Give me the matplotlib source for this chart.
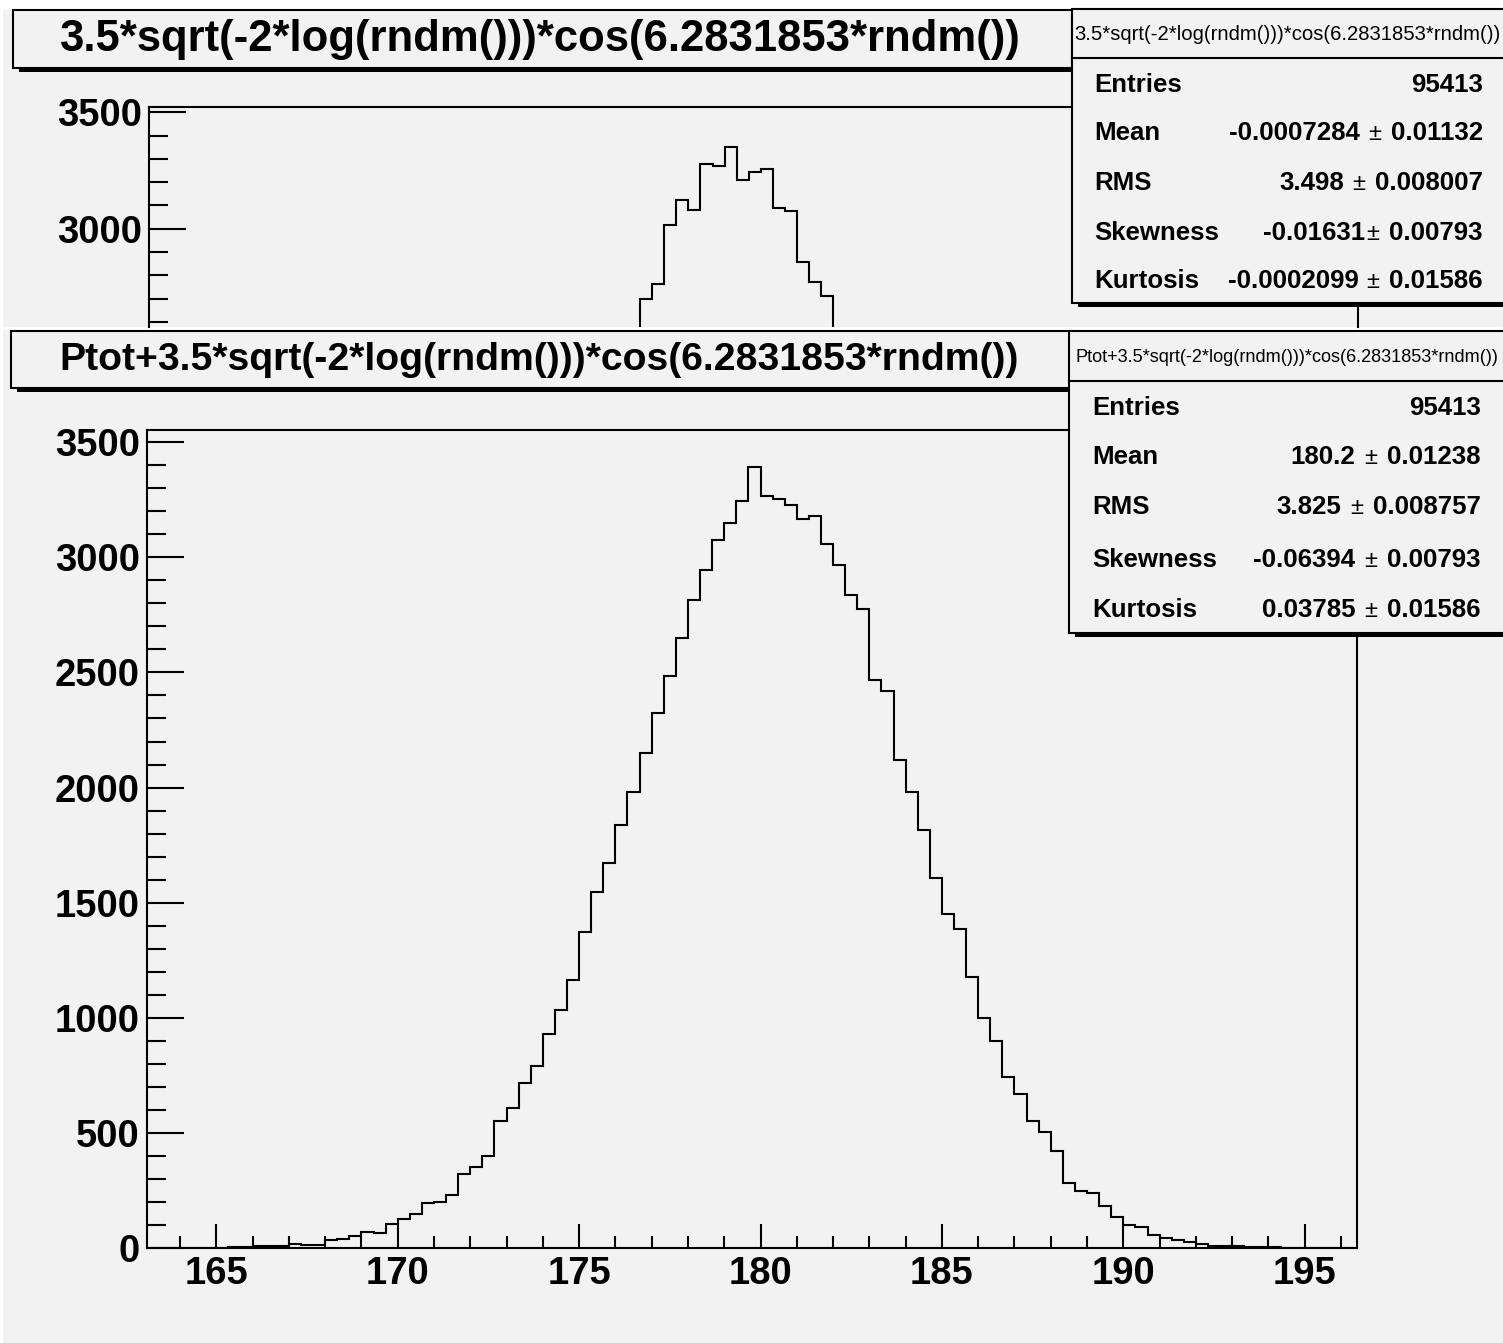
import matplotlib
matplotlib.use("Agg")
import matplotlib.pyplot as plt
import numpy as np
from matplotlib.patches import Rectangle
from matplotlib.lines import Line2D

# ---------------------------------------------------------------- data
# Ptot + 3.5*gauss : 100 bins of width 1/3 starting at 163
ptot_first_edge = 163.0
ptot_bin_width = 1.0 / 3.0
ptot_counts = [
    0, 0, 1, 1, 2, 2, 3, 4, 5, 12,
    10, 12, 19, 15, 16, 35, 39, 54, 71, 66,
    106, 128, 148, 198, 201, 230, 323, 353, 402, 552,
    608, 719, 792, 929, 1035, 1163, 1372, 1548, 1671, 1838,
    1982, 2149, 2322, 2484, 2649, 2814, 2944, 3075, 3150, 3244,
    3390, 3267, 3251, 3228, 3167, 3179, 3059, 2968, 2834, 2777,
    2468, 2418, 2119, 1979, 1817, 1607, 1450, 1386, 1180, 1000,
    902, 745, 670, 555, 504, 424, 285, 248, 242, 184,
    135, 102, 95, 58, 44, 37, 26, 18, 12, 12,
    10, 8, 6, 5, 3, 2, 1, 1, 0, 0,
]
ptot_xticks = [165, 170, 175, 180, 185, 190, 195]
ptot_yticks = [0, 500, 1000, 1500, 2000, 2500, 3000, 3500]

# 3.5*gauss : the bins around the maximum
gauss_first_edge = -3.13
gauss_bin_width = 1.0 / 3.0
gauss_counts = [2698, 2761, 3015, 3122, 3080, 3278, 3271, 3352,
                3209, 3245, 3256, 3090, 3077, 2856, 2771, 2712]
gauss_yticks = [3000, 3500]

title_gauss = "3.5*sqrt(-2*log(rndm()))*cos(6.2831853*rndm())"
title_ptot = "Ptot+3.5*sqrt(-2*log(rndm()))*cos(6.2831853*rndm())"

stat_names = ["Entries", "Mean", "RMS", "Skewness", "Kurtosis"]
gauss_stats = [("95413", None), ("-0.0007284", "0.01132"), ("3.498", "0.008007"),
               ("-0.01631", "0.00793"), ("-0.0002099", "0.01586")]
ptot_stats = [("95413", None), ("180.2", "0.01238"), ("3.825", "0.008757"),
              ("-0.06394", "0.00793"), ("0.03785", "0.01586")]

# ---------------------------------------------------------------- style
plt.rcParams["font.family"] = ["Liberation Sans", "DejaVu Sans"]
plt.rcParams["font.weight"] = "bold"

W, H = 1503, 1343
PAD = "#f2f2f2"
LW = 1.5

fig = plt.figure(figsize=(W / 100, H / 100), dpi=100, facecolor="white")
renderer = fig.canvas.get_renderer()


def frect(x0, y0, x1, y1, **kw):
    return Rectangle((x0 / W, 1 - y1 / H), (x1 - x0) / W, (y1 - y0) / H,
                     transform=fig.transFigure, **kw)


def hline(x0, x1, y, z, lw=LW):
    fig.lines.append(Line2D([x0 / W, x1 / W], [1 - y / H, 1 - y / H],
                            transform=fig.transFigure, color="black",
                            lw=lw, zorder=z))


def ftext(x, y, s, z, **kw):
    return fig.text(x / W, 1 - y / H, s, zorder=z, **kw)


def shadow_box(x0, y0, x1, y1, z):
    fig.patches.append(frect(x0 + 6, y0 + 5, x1 + 4, y1 + 4,
                             facecolor="black", edgecolor="none", zorder=z))
    fig.patches.append(frect(x0, y0, x1, y1, facecolor=PAD,
                             edgecolor="black", lw=LW, zorder=z + 0.01))


def width_px(t):
    return t.get_window_extent(renderer=renderer).width


def stats_box(x0, y0, y_head, y1, header, header_size, rows, label_x, value_x, z):
    shadow_box(x0, y0, W + 20, y1, z)
    hline(x0, W + 5, y_head, z + 0.02)
    ftext(1287, (y0 + y_head) / 2 + 1, header, z + 0.03,
          ha="center", va="center", fontsize=header_size, fontweight="normal")
    for (name, (a, b), y, gap) in rows:
        ftext(label_x, y, name, z + 0.03, ha="left", va="center", fontsize=18.6)
        if b is None:
            ftext(value_x, y, a, z + 0.03, ha="right", va="center", fontsize=18.6)
            continue
        tb = ftext(value_x, y, b, z + 0.03, ha="right", va="center", fontsize=18.6)
        xb = value_x - width_px(tb) - 10
        tp = ftext(xb, y + 1, "\u00b1", z + 0.03, ha="right", va="center",
                   fontsize=17, fontweight="normal")
        xa = xb - width_px(tp) - gap
        ftext(xa, y, a, z + 0.03, ha="right", va="center", fontsize=18.6)


def style_frame(ax):
    ax.patch.set_visible(False)
    for sp in ax.spines.values():
        sp.set_linewidth(LW)
    ax.tick_params(which="both", direction="in", width=LW, top=False,
                   right=False, labelsize=27.5)


# ---------------------------------------------------------------- upper pad
fig.patches.append(frect(3, 10, W, 327, facecolor=PAD, edgecolor="none", zorder=0.1))

ax_g = fig.add_axes([149 / W, 1 - 327 / H, (1358 - 149) / W, (327 - 107.3) / H])
ax_g.set_zorder(0.2)
style_frame(ax_g)
g_edges = gauss_first_edge + gauss_bin_width * np.arange(len(gauss_counts) + 1)
ax_g.stairs(gauss_counts, g_edges, baseline=0, color="black", lw=LW)
ax_g.set_xlim(-16.67, 16.67)
ax_g.set_ylim(2577.7, 3521.5)
ax_g.spines["bottom"].set_visible(False)
ax_g.set_xticks([])
ax_g.set_yticks(gauss_yticks)
ax_g.set_yticks(np.arange(2600, 3501, 100), minor=True)
ax_g.tick_params(axis="y", which="major", length=26.5, pad=5)
ax_g.tick_params(axis="y", which="minor", length=13.5)

shadow_box(13, 10, 1072, 68, 0.3)
ftext(540, 39, title_gauss, 0.35, ha="center", va="center", fontsize=31.4)

stats_box(1072, 9, 58, 303, title_gauss, 14.6,
          [(n, v, y, g) for n, v, y, g in zip(stat_names, gauss_stats,
                                               [85, 133, 183, 233, 281],
                                               [0, 8, 8, 1, 8])],
          1094, 1483, 0.4)

# ---------------------------------------------------------------- lower pad
fig.patches.append(frect(3, 330, W, H, facecolor=PAD, edgecolor="none", zorder=1.0))

ax_p = fig.add_axes([147 / W, 1 - 1248.4 / H, (1357 - 147) / W, (1248.4 - 430) / H])
ax_p.set_zorder(1.1)
style_frame(ax_p)
p_edges = ptot_first_edge + ptot_bin_width * np.arange(len(ptot_counts) + 1)
ax_p.stairs(ptot_counts, p_edges, baseline=0, color="black", lw=LW)
ax_p.set_xlim(163.09, 196.44)
ax_p.set_ylim(0, 3552)
ax_p.set_xticks(ptot_xticks)
ax_p.set_xticks(np.arange(164, 197, 1), minor=True)
ax_p.set_yticks(ptot_yticks)
ax_p.set_yticks(np.arange(0, 3501, 100), minor=True)
ax_p.tick_params(axis="y", which="major", length=26.5, pad=5)
ax_p.tick_params(axis="y", which="minor", length=13.5)
ax_p.tick_params(axis="x", which="major", length=17.3, pad=5.5)
ax_p.tick_params(axis="x", which="minor", length=8.6)

shadow_box(11, 331, 1072, 388, 1.2)
ftext(539, 360, title_ptot, 1.25, ha="center", va="center", fontsize=28.2)

stats_box(1069, 331, 381, 633, title_ptot, 13.1,
          [(n, v, y, g) for n, v, y, g in zip(stat_names, ptot_stats,
                                               [408, 457, 507, 560, 610],
                                               [0, 9, 9, 9, 9])],
          1092, 1481, 1.3)

fig.savefig("out.png", dpi=100, facecolor="white")
